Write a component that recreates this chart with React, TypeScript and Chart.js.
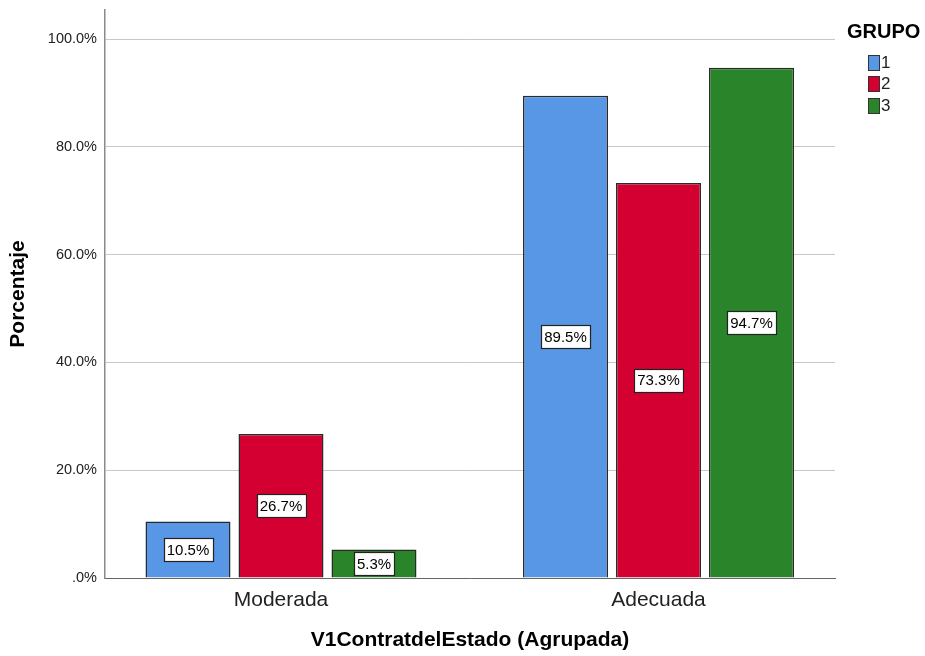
import React, { useEffect, useRef } from 'react';
import { Chart, registerables } from 'chart.js';

Chart.register(...registerables);

const categories = ['Moderada', 'Adecuada'];
const groupLabels = ['1', '2', '3'];
const grupo1 = [10.5, 89.5];
const grupo2 = [26.7, 73.3];
const grupo3 = [5.3, 94.7];
const yTicks = [0, 20, 40, 60, 80, 100];
const seriesValues = [grupo1, grupo2, grupo3];
const colors = ['#5896e6', '#d50032', '#2a852a'];

const FONT = '"Liberation Sans", Arial, Helvetica, sans-serif';

const valueLabelPlugin = {
  id: 'valueLabels',
  afterDatasetsDraw(chart: any) {
    const ctx = chart.ctx;
    ctx.save();
    ctx.font = `15px ${FONT}`;
    ctx.textAlign = 'center';
    ctx.textBaseline = 'middle';
    chart.data.datasets.forEach((ds: any, di: number) => {
      const meta = chart.getDatasetMeta(di);
      meta.data.forEach((bar: any, i: number) => {
        const v = ds.data[i].y;
        const txt = v.toFixed(1) + '%';
        const cx = bar.x;
        const cy = (bar.y + bar.base) / 2;
        const w = ctx.measureText(txt).width + 6;
        const h = 23;
        const x0 = Math.round(cx - w / 2) + 0.5;
        const y0 = Math.round(cy - h / 2) + 0.5;
        ctx.fillStyle = '#ffffff';
        ctx.fillRect(x0, y0, Math.round(w), h);
        ctx.strokeStyle = '#222222';
        ctx.lineWidth = 1.2;
        ctx.strokeRect(x0, y0, Math.round(w), h);
        ctx.fillStyle = '#000000';
        ctx.fillText(txt, cx, cy + 1);
      });
    });
    ctx.restore();
  },
};

const legendPlugin = {
  id: 'customLegend',
  afterDraw(chart: any) {
    const ctx = chart.ctx;
    ctx.save();
    ctx.font = `bold 20px ${FONT}`;
    ctx.fillStyle = '#000000';
    ctx.textAlign = 'left';
    ctx.textBaseline = 'middle';
    ctx.fillText('GRUPO', 847, 32);
    chart.data.datasets.forEach((ds: any, i: number) => {
      const cy = 62 + i * 21.5;
      ctx.fillStyle = ds.backgroundColor;
      ctx.fillRect(868.5, Math.round(cy - 7.5) + 0.5, 11, 15);
      ctx.strokeStyle = '#333333';
      ctx.lineWidth = 1;
      ctx.strokeRect(868.5, Math.round(cy - 7.5) + 0.5, 11, 15);
      ctx.fillStyle = '#222222';
      ctx.font = `17px ${FONT}`;
      ctx.fillText(ds.label, 881, cy + 1);
    });
    ctx.restore();
  },
};

export default function App() {
  const ref = useRef<HTMLCanvasElement | null>(null);

  useEffect(() => {
    if (!ref.current) return;
    Chart.defaults.font.family = FONT;
    const chart = new Chart(ref.current, {
      type: 'bar',
      data: {
        datasets: seriesValues.map((vals, si) => ({
          label: groupLabels[si],
          data: vals.map((v, i) => ({ x: i, y: v })),
          backgroundColor: colors[si],
          borderColor: '#2a2a2a',
          borderWidth: 1.5,
          borderSkipped: 'start',
          barPercentage: 0.914,
          categoryPercentage: 0.739,
        })),
      },
      options: {
        responsive: false,
        animation: false,
        layout: { padding: { left: 0, right: 90, top: 10, bottom: 0 } },
        plugins: {
          legend: { display: false },
          tooltip: { enabled: false },
        },
        scales: {
          x: {
            type: 'linear',
            offset: false,
            min: -0.4662,
            max: 1.4675,
            afterBuildTicks: (scale: any) => {
              scale.ticks = categories.map((_, i) => ({ value: i }));
            },
            afterFit: (scale: any) => {
              scale.height = 78;
              scale.paddingLeft = 0;
              scale.paddingRight = 0;
            },
            grid: { display: false, drawTicks: false, offset: false },
            border: { display: true, color: '#666666', width: 1 },
            ticks: {
              padding: 10,
              color: '#222222',
              font: { size: 21, family: FONT },
              maxRotation: 0,
              callback: (v: any) => categories[Math.round(Number(v))] ?? '',
            },
            title: {
              display: true,
              text: 'V1ContratdelEstado (Agrupada)',
              color: '#000000',
              font: { size: 21, weight: 'bold', family: FONT },
              padding: { top: 0, bottom: 3 },
            },
          },
          y: {
            min: 0,
            max: 105.4,
            afterBuildTicks: (scale: any) => {
              scale.ticks = yTicks.map((v) => ({ value: v }));
            },
            afterFit: (scale: any) => {
              scale.width = 105;
              scale.paddingTop = 0;
              scale.paddingBottom = 0;
            },
            grid: { color: '#c8c8c8', lineWidth: 1, drawTicks: false },
            border: { display: true, color: '#8a8a8a', width: 1.5 },
            ticks: {
              padding: 8,
              color: '#222222',
              font: { size: 14.5, family: FONT },
              callback: (v: any) => (Number(v) === 0 ? '.0%' : Number(v).toFixed(1) + '%'),
            },
            title: {
              display: true,
              text: 'Porcentaje',
              color: '#000000',
              font: { size: 21, weight: 'bold', family: FONT },
              padding: { top: 6, bottom: 0 },
            },
          },
        },
      },
      plugins: [valueLabelPlugin, legendPlugin],
    } as any);
    return () => chart.destroy();
  }, []);

  return (
    <div style={{ position: 'absolute', left: 0, top: 0, width: 925, height: 656, background: '#ffffff' }}>
      <canvas ref={ref} width={925} height={656} style={{ display: 'block' }} />
    </div>
  );
}
